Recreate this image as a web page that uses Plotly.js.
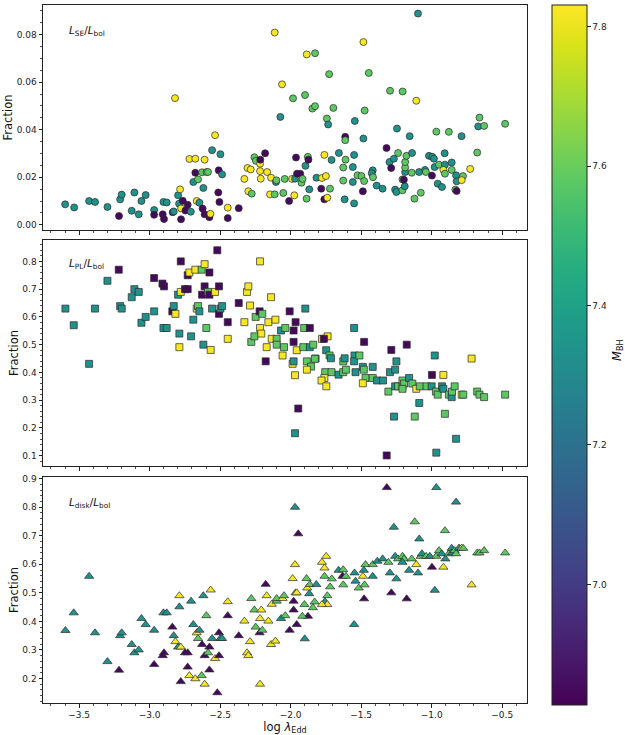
<!DOCTYPE html>
<html>
<head>
<meta charset="utf-8">
<script src="https://cdn.plot.ly/plotly-3.0.1.min.js"></script>
<style>html,body{margin:0;padding:0;background:#fff;}#chart{width:625px;height:735px;}</style>
</head>
<body>
<div id="chart"></div>
<script>
// ---- Panel 1: L_SE / L_bol (circles) ----
const seLogEdd = [-3.599,-3.535,-3.429,-3.387,-3.299,-3.217,-3.209,-3.198,-3.127,-3.108,-3.077,-3.058,-3.028,-2.968,-2.968,-2.907,-2.902,-2.898,-2.879,-2.836,-2.829,-2.820,-2.798,-2.784,-2.791,-2.777,-2.777,-2.765,-2.746,-2.730,-2.708,-2.718,-2.690,-2.676,-2.676,-2.666,-2.657,-2.647,-2.628,-2.624,-2.619,-2.610,-2.610,-2.596,-2.586,-2.576,-2.569,-2.557,-2.536,-2.513,-2.510,-2.505,-2.498,-2.486,-2.446,-2.446,-2.368,-2.328,-2.306,-2.300,-2.283,-2.276,-2.257,-2.246,-2.217,-2.217,-2.215,-2.212,-2.181,-2.167,-2.146,-2.139,-2.113,-2.113,-2.104,-2.101,-2.073,-2.061,-2.052,-2.042,-2.011,-1.990,-1.983,-1.974,-1.969,-1.962,-1.955,
-1.886,-1.827,-1.898,-1.846,-1.827,-1.727,-1.697,-1.743,-1.734,-1.613,-1.613,-1.545,-1.484,-1.475,-1.446,-1.484,-1.295,-1.246,-1.206,-1.156,-1.109,-1.097,-0.967,-0.878,-0.788,-0.677,-0.670,-0.661,-0.628,-0.479,-0.727,-1.878,-1.895,-1.874,-1.932,-1.923,-1.916,-1.868,-1.887,-1.817,-1.778,-1.750,-1.783,-1.761,-1.721,-1.761,-1.740,-1.710,-1.658,-1.611,-1.627,-1.627,-1.559,-1.550,-1.559,-1.617,-1.550,-1.526,-1.498,-1.479,-1.488,-1.418,-1.425,-1.416,-1.390,-1.348,-1.320,-1.299,-1.287,-1.268,-1.238,-1.259,-1.250,-1.207,-1.191,-1.207,-1.197,-1.188,-1.188,-1.188,-1.179,-1.139,-1.141,-1.089,-1.047,-1.041,-1.077,-1.122,-1.019,-0.996,-0.984,-0.979,-0.998,-0.957,-0.927,-0.948,-0.908,-0.906,-0.917,-0.906,-0.858,-0.858,-0.827,-0.823,-0.778,-0.787,-0.832,-0.823];
const seFrac = [0.0086,0.0073,0.0100,0.0096,0.0075,0.0037,0.0107,0.0127,0.0059,0.0136,0.0044,0.0100,0.0125,0.0062,0.0042,0.0044,0.0096,0.0024,0.0094,0.0053,0.0056,0.0533,0.0124,0.0149,0.0089,0.0069,0.0023,0.0101,0.0060,0.0084,0.0055,0.0277,0.0180,0.0278,0.0219,0.0100,0.0191,0.0093,0.0221,0.0068,0.0155,0.0274,0.0044,0.0222,0.0222,0.0032,0.0046,0.0314,0.0377,0.0136,0.0229,0.0096,0.0297,0.0212,0.0072,0.0028,0.0070,0.0193,0.0239,0.0141,0.0233,0.0131,0.0284,0.0269,0.0257,0.0226,0.0274,0.0194,0.0301,0.0222,0.0128,0.0198,0.0809,0.0128,0.0180,0.0187,0.0454,0.0591,0.0134,0.0193,0.0100,0.0193,0.0532,0.0124,0.0194,0.0283,0.0215,
0.0717,0.0722,0.0546,0.0489,0.0499,0.0634,0.0492,0.0447,0.0422,0.0370,0.0356,0.0437,0.0769,0.0481,0.0639,0.0363,0.0564,0.0405,0.0561,0.0373,0.0522,0.0889,0.0392,0.0391,0.0373,0.0304,0.0414,0.0451,0.0416,0.0425,0.0235,0.0286,0.0248,0.0274,0.0215,0.0177,0.0193,0.0149,0.0110,0.0198,0.0197,0.0205,0.0152,0.0294,0.0152,0.0107,0.0114,0.0273,0.0302,0.0274,0.0241,0.0186,0.0243,0.0294,0.0180,0.0107,0.0090,0.0208,0.0205,0.0184,0.0141,0.0229,0.0217,0.0200,0.0165,0.0152,0.0323,0.0264,0.0239,0.0278,0.0302,0.0148,0.0138,0.0145,0.0162,0.0191,0.0190,0.0222,0.0241,0.0264,0.0290,0.0302,0.0219,0.0222,0.0231,0.0222,0.0135,0.0110,0.0290,0.0286,0.0278,0.0243,0.0207,0.0173,0.0159,0.0253,0.0301,0.0253,0.0231,0.0215,0.0262,0.0231,0.0208,0.0183,0.0205,0.0188,0.0148,0.0142];
const seMass = [7.33,7.33,7.33,7.33,7.33,6.85,7.33,7.33,7.33,7.33,7.33,7.33,7.33,7.33,6.85,6.85,7.33,6.85,7.33,6.85,7.33,7.82,7.33,7.82,7.33,7.82,6.85,6.85,6.85,6.85,7.33,7.82,7.33,7.82,6.85,7.82,7.58,7.33,7.58,6.85,7.33,7.82,6.85,7.58,7.58,6.85,7.82,7.33,7.82,6.85,6.85,6.85,7.33,7.33,7.82,6.85,6.85,7.82,7.82,7.82,7.82,7.58,7.58,7.58,7.82,7.82,6.85,7.82,6.85,7.82,7.82,7.82,7.82,7.58,7.33,7.58,7.33,7.82,7.58,7.58,6.85,7.82,7.58,7.82,7.33,6.85,6.85,
7.82,7.58,7.58,7.58,7.58,7.58,7.58,7.58,7.33,6.85,7.58,7.33,7.82,7.58,7.58,7.33,7.58,7.33,7.58,7.33,7.82,7.33,7.58,7.58,7.33,7.58,7.33,7.58,7.58,7.58,7.82,7.58,7.33,6.85,6.85,7.58,7.58,7.33,7.58,7.33,7.82,7.82,6.85,7.82,7.58,6.85,7.82,7.33,7.33,7.58,7.58,7.58,7.33,7.33,7.33,7.33,7.33,7.58,7.58,7.58,6.85,7.33,7.33,7.58,7.33,7.33,6.85,7.33,6.85,7.33,7.58,7.33,7.33,7.58,7.33,7.58,6.85,7.33,7.58,7.58,7.58,7.33,7.58,7.33,7.33,7.58,7.58,7.58,7.33,7.33,7.33,7.33,6.85,7.33,7.33,7.58,7.33,7.33,7.82,7.58,7.33,7.58,7.33,7.33,7.58,7.82,7.58,6.85];

// ---- Panel 2: L_PL / L_bol (squares) ----
const plLogEdd = [-3.597,-3.538,-3.429,-3.387,-3.299,-3.219,-3.209,-3.198,-3.127,-3.108,-3.077,-3.058,-3.028,-2.968,-2.968,-2.909,-2.898,-2.902,-2.879,-2.839,-2.829,-2.817,-2.798,-2.789,-2.789,-2.779,-2.779,-2.749,-2.730,-2.730,-2.718,-2.706,-2.690,-2.676,-2.666,-2.657,-2.647,-2.631,-2.628,-2.619,-2.610,-2.610,-2.598,-2.586,-2.576,-2.576,-2.567,-2.557,-2.536,-2.520,-2.508,-2.508,-2.498,-2.486,-2.446,-2.446,-2.368,-2.328,-2.309,-2.300,-2.288,-2.279,-2.257,-2.248,-2.217,-2.220,-2.217,-2.208,-2.201,-2.177,-2.170,-2.158,-2.139,-2.134,-2.108,-2.099,-2.099,-2.068,-2.057,-2.047,-2.038,-2.007,-1.986,-1.979,-1.979,-1.979,-1.969,-1.969,-1.965,-1.957,-1.946,
-1.896,-1.904,-1.864,-1.910,-1.864,-1.840,-1.885,-1.855,-1.885,-1.823,-1.828,-1.778,-1.738,-1.764,-1.748,-1.724,-1.714,-1.755,-1.710,-1.761,-1.781,-1.747,-1.660,-1.627,-1.617,-1.627,-1.608,-1.547,-1.550,-1.550,-1.512,-1.540,-1.488,-1.481,-1.469,-1.479,-1.488,-1.418,-1.418,-1.387,-1.345,-1.307,-1.296,-1.259,-1.250,-1.286,-1.177,-1.267,-1.259,-1.238,-1.207,-1.207,-1.196,-1.160,-1.207,-1.137,-1.120,-1.109,-1.088,-1.084,-1.036,-1.000,-0.978,-0.998,-0.917,-0.906,-0.967,-0.970,-0.957,-0.927,-0.917,-0.878,-0.858,-0.856,-0.837,-0.827,-0.787,-0.776,-0.717,-0.677,-0.661,-0.628,-0.479,-1.319];
const plFrac = [0.630,0.570,0.431,0.630,0.730,0.770,0.639,0.630,0.671,0.700,0.690,0.579,0.600,0.740,0.620,0.720,0.710,0.560,0.560,0.620,0.639,0.611,0.680,0.540,0.491,0.800,0.690,0.700,0.700,0.750,0.760,0.530,0.590,0.770,0.630,0.639,0.620,0.770,0.680,0.500,0.790,0.710,0.560,0.690,0.760,0.680,0.481,0.630,0.690,0.840,0.710,0.611,0.630,0.639,0.581,0.521,0.650,0.581,0.690,0.710,0.641,0.510,0.530,0.600,0.800,0.620,0.560,0.540,0.611,0.440,0.491,0.581,0.671,0.521,0.590,0.521,0.500,0.551,0.461,0.491,0.560,0.620,0.431,0.551,0.510,0.440,0.390,0.181,0.581,0.480,0.270,
0.630,0.560,0.560,0.491,0.491,0.500,0.440,0.421,0.410,0.450,0.449,0.521,0.530,0.521,0.480,0.461,0.451,0.401,0.401,0.380,0.371,0.350,0.392,0.440,0.451,0.401,0.410,0.461,0.440,0.560,0.461,0.401,0.420,0.410,0.380,0.510,0.361,0.420,0.380,0.371,0.371,0.331,0.401,0.410,0.440,0.481,0.500,0.241,0.350,0.350,0.350,0.371,0.360,0.380,0.341,0.360,0.241,0.341,0.290,0.350,0.350,0.350,0.461,0.391,0.391,0.251,0.111,0.331,0.320,0.350,0.341,0.320,0.311,0.331,0.350,0.161,0.320,0.320,0.450,0.331,0.320,0.311,0.320,0.101];
const plMass = [7.33,7.33,7.33,7.33,7.33,6.85,7.33,7.33,7.33,7.33,7.33,7.33,7.33,6.85,7.33,6.85,6.85,7.33,7.33,6.85,7.33,7.82,7.33,7.33,7.82,6.85,7.82,6.85,6.85,6.85,7.82,7.33,7.33,7.82,7.82,7.58,7.33,7.58,6.85,7.33,7.82,6.85,7.58,7.58,6.85,6.85,7.82,7.33,7.82,6.85,6.85,6.85,7.33,7.33,6.85,7.82,6.85,7.82,7.82,7.82,7.82,7.58,7.58,7.58,7.82,6.85,7.82,7.82,7.58,6.85,7.82,7.82,7.82,7.82,7.82,7.58,7.58,7.33,7.82,7.58,7.58,6.85,7.82,6.85,6.85,7.33,7.82,7.33,6.85,7.82,6.85,
7.33,7.58,6.85,7.58,7.33,7.58,7.58,7.58,7.82,7.33,7.58,7.82,7.82,6.85,7.33,7.58,7.33,7.58,7.58,7.82,7.82,7.82,7.33,7.58,7.33,7.58,7.58,7.33,7.33,7.33,7.58,7.33,7.33,7.58,7.58,6.85,7.82,7.33,7.58,7.33,7.33,7.58,7.33,7.33,7.33,6.85,6.85,7.33,7.33,7.58,7.58,7.58,7.58,7.33,7.58,7.58,7.58,7.82,7.33,7.58,7.58,7.33,7.33,6.85,7.82,7.58,7.33,7.58,7.58,7.33,7.33,7.58,7.33,7.58,7.58,7.33,7.82,7.58,7.82,7.58,7.58,7.58,7.58,6.85];

// ---- Panel 3: L_disk / L_bol (triangles) ----
const diskLogEdd = [-3.597,-3.538,-3.429,-3.387,-3.299,-3.217,-3.209,-3.198,-3.127,-3.108,-3.077,-3.058,-3.028,-2.968,-2.968,-2.907,-2.898,-2.902,-2.879,-2.839,-2.829,-2.817,-2.798,-2.789,-2.789,-2.779,-2.779,-2.749,-2.730,-2.730,-2.718,-2.706,-2.690,-2.676,-2.666,-2.657,-2.647,-2.631,-2.628,-2.619,-2.610,-2.610,-2.598,-2.586,-2.576,-2.576,-2.567,-2.557,-2.536,-2.520,-2.508,-2.508,-2.498,-2.486,-2.446,-2.446,-2.368,-2.328,-2.309,-2.300,-2.288,-2.279,-2.257,-2.248,-2.217,-2.220,-2.217,-2.208,-2.201,-2.177,-2.170,-2.158,-2.139,-2.134,-2.108,-2.099,-2.099,-2.068,-2.057,-2.047,-2.038,-2.007,-1.986,-1.979,-1.979,-1.969,-1.969,-1.965,-1.957,-1.946,-1.957,
-1.887,-1.882,-1.864,-1.818,-1.868,-1.902,-1.830,-1.842,-1.877,-1.917,-1.900,-1.778,-1.748,-1.760,-1.760,-1.708,-1.720,-1.740,-1.757,-1.740,-1.778,-1.660,-1.627,-1.632,-1.608,-1.627,-1.547,-1.540,-1.550,-1.517,-1.488,-1.481,-1.469,-1.476,-1.479,-1.418,-1.418,-1.385,-1.347,-1.318,-1.307,-1.296,-1.286,-1.268,-1.259,-1.250,-1.238,-1.207,-1.196,-1.207,-1.177,-1.160,-1.141,-1.120,-1.109,-1.097,-1.088,-1.078,-1.069,-1.039,-1.013,-0.998,-0.978,-0.967,-0.967,-0.948,-0.929,-0.917,-0.906,-0.903,-0.878,-0.858,-0.856,-0.837,-0.827,-0.827,-0.806,-0.787,-0.776,-0.717,-0.677,-0.661,-0.628,-0.479];
const diskFrac = [0.368,0.430,0.558,0.360,0.259,0.229,0.350,0.360,0.319,0.290,0.300,0.410,0.389,0.369,0.249,0.280,0.290,0.430,0.430,0.380,0.350,0.329,0.310,0.451,0.490,0.189,0.310,0.290,0.290,0.240,0.210,0.471,0.389,0.199,0.360,0.340,0.369,0.210,0.319,0.490,0.180,0.280,0.420,0.290,0.310,0.230,0.510,0.340,0.270,0.150,0.360,0.280,0.340,0.340,0.420,0.469,0.350,0.401,0.290,0.280,0.329,0.480,0.440,0.380,0.180,0.360,0.410,0.440,0.369,0.530,0.490,0.401,0.319,0.460,0.331,0.471,0.480,0.410,0.480,0.490,0.420,0.369,0.550,0.471,0.440,0.800,0.599,0.500,0.500,0.707,0.389,
0.550,0.517,0.529,0.529,0.497,0.459,0.468,0.448,0.418,0.418,0.339,0.607,0.628,0.587,0.558,0.549,0.521,0.490,0.469,0.459,0.459,0.579,0.581,0.558,0.558,0.528,0.570,0.541,0.389,0.517,0.558,0.579,0.599,0.528,0.479,0.599,0.558,0.611,0.619,0.869,0.607,0.570,0.500,0.730,0.628,0.549,0.619,0.628,0.619,0.607,0.479,0.579,0.619,0.749,0.599,0.570,0.689,0.628,0.637,0.628,0.628,0.590,0.509,0.869,0.628,0.648,0.637,0.590,0.718,0.619,0.637,0.656,0.640,0.648,0.818,0.637,0.657,0.657,0.656,0.528,0.640,0.640,0.648,0.640];
const diskMass = [7.33,7.33,7.33,7.33,7.33,6.85,7.33,7.33,7.33,7.33,7.33,7.33,7.33,7.33,6.85,6.85,6.85,7.33,7.33,6.85,7.33,7.82,7.33,7.33,7.82,6.85,7.82,6.85,6.85,6.85,7.82,7.33,7.33,7.82,7.82,7.58,7.33,7.58,6.85,7.33,7.82,6.85,7.58,7.58,6.85,6.85,7.82,7.33,7.82,6.85,6.85,6.85,7.33,7.33,6.85,7.82,6.85,7.82,7.82,7.82,7.82,7.58,7.58,7.58,7.82,6.85,7.82,7.82,7.58,6.85,7.82,7.82,7.82,7.82,7.82,7.58,7.58,7.33,7.82,7.58,7.58,6.85,7.82,6.85,6.85,7.33,7.82,7.58,7.82,6.85,6.85,
7.58,7.82,7.58,7.33,7.33,7.58,7.58,7.58,6.85,7.58,7.33,7.82,7.82,7.82,7.58,7.58,7.58,7.58,7.33,7.82,7.82,7.33,7.58,6.85,7.58,7.58,7.33,7.33,7.33,7.58,7.82,7.33,7.58,7.58,6.85,7.58,7.33,7.33,7.33,6.85,7.58,7.33,6.85,7.33,7.33,7.33,7.58,7.58,7.58,7.33,6.85,7.33,7.58,7.58,7.82,7.33,7.33,7.58,7.33,7.58,7.33,6.85,7.33,7.33,7.58,7.58,7.33,7.82,7.58,7.33,7.58,7.33,7.33,7.58,7.33,7.58,7.33,7.82,7.58,7.82,7.58,7.58,7.58,7.58];

const xTickVals = [-3.5,-3.0,-2.5,-2.0,-1.5,-1.0,-0.5];
const cbTickVals = [7.0,7.2,7.4,7.6,7.8];

const CMIN = 6.827, CMAX = 7.831;
const FONT = 'DejaVu Sans, Liberation Sans, sans-serif';
const lineCol = '#222';

function mk(x, y, m, sym, size, xa, ya, showScale) {
  const marker = {
    color: m, colorscale: 'Viridis', cmin: CMIN, cmax: CMAX,
    symbol: sym, size: size, opacity: 1,
    line: {color: '#2a2a2a', width: 0.7},
    showscale: showScale
  };
  if (showScale) {
    marker.colorbar = {
      x: 552/625, xanchor: 'left', xref: 'paper',
      y: 1 - 5/735, yanchor: 'top', yref: 'paper',
      len: 700, lenmode: 'pixels',
      thickness: 35, thicknessmode: 'pixels',
      xpad: 0, ypad: 0,
      outlinewidth: 1, outlinecolor: lineCol,
      ticks: 'outside', ticklen: 3.5, tickwidth: 1, tickcolor: lineCol,
      tickvals: cbTickVals, ticktext: cbTickVals.map(v => v.toFixed(1)),
      tickfont: {family: FONT, size: 9, color: '#222'}
    };
  }
  return {type: 'scatter', mode: 'markers', x: x, y: y, xaxis: xa, yaxis: ya,
          marker: marker, hoverinfo: 'x+y', showlegend: false};
}

const data = [
  mk(seLogEdd, seFrac, seMass, 'circle', 7, 'x', 'y', true),
  mk(plLogEdd, plFrac, plMass, 'square', 7, 'x2', 'y2', false),
  mk(diskLogEdd, diskFrac, diskMass, 'triangle-up', 8, 'x3', 'y3', false)
];

const XD = [43/625, 527/625];
function xax(anchor, labels) {
  return {
    domain: XD, anchor: anchor, range: [-3.756, -0.324],
    tickvals: xTickVals, ticktext: xTickVals.map(v => (v < 0 ? '\u2212' : '') + Math.abs(v).toFixed(1)),
    showticklabels: labels,
    ticks: 'outside', ticklen: 3.5, tickwidth: 1, tickcolor: lineCol,
    minor: {dtick: 0.1, tick0: 0, ticks: 'outside', ticklen: 2, tickwidth: 0.8, tickcolor: lineCol, showgrid: false},
    showline: true, mirror: true, linecolor: lineCol, linewidth: 1,
    showgrid: false, zeroline: false,
    tickfont: {family: FONT, size: 9, color: '#222'}
  };
}
function yax(anchor, dom, range, dtick, minor, fmt) {
  return {
    domain: dom, anchor: anchor, range: range,
    dtick: dtick, tick0: 0, tickformat: fmt,
    ticks: 'outside', ticklen: 3.5, tickwidth: 1, tickcolor: lineCol,
    minor: {dtick: minor, tick0: 0, ticks: 'outside', ticklen: 2, tickwidth: 0.8, tickcolor: lineCol, showgrid: false},
    showline: true, mirror: true, linecolor: lineCol, linewidth: 1,
    showgrid: false, zeroline: false,
    tickfont: {family: FONT, size: 9, color: '#222'},
    title: {text: 'Fraction', font: {family: FONT, size: 11.5, color: '#111'}, standoff: 1}
  };
}

const xa3 = xax('y3', true);
xa3.title = {text: 'log <i>λ</i><sub>Edd</sub>', font: {family: FONT, size: 11.5, color: '#111'}, standoff: 2};

const layout = {
  width: 625, height: 735,
  margin: {l: 0, r: 0, t: 0, b: 0},
  paper_bgcolor: '#fff', plot_bgcolor: '#fff',
  font: {family: FONT, color: '#222'},
  showlegend: false,
  xaxis: xax('y', false),
  xaxis2: xax('y2', false),
  xaxis3: xa3,
  yaxis: yax('x', [1 - 230/735, 1 - 5/735], [-0.0022, 0.0925], 0.02, 0.005, '.2f'),
  yaxis2: yax('x2', [1 - 466/735, 1 - 240/735], [0.063, 0.877], 0.1, 0.02, '.1f'),
  yaxis3: yax('x3', [1 - 703/735, 1 - 477/735], [0.114, 0.906], 0.1, 0.02, '.1f'),
  annotations: [
    {text: '<i>L</i><sub>SE</sub>/<i>L</i><sub>bol</sub>', xref: 'paper', yref: 'paper',
     x: 67/625, y: 1 - 31/735, xanchor: 'left', yanchor: 'middle', showarrow: false,
     font: {family: FONT, size: 10.5, color: '#111'}},
    {text: '<i>L</i><sub>PL</sub>/<i>L</i><sub>bol</sub>', xref: 'paper', yref: 'paper',
     x: 67/625, y: 1 - 264/735, xanchor: 'left', yanchor: 'middle', showarrow: false,
     font: {family: FONT, size: 10.5, color: '#111'}},
    {text: '<i>L</i><sub>disk</sub>/<i>L</i><sub>bol</sub>', xref: 'paper', yref: 'paper',
     x: 67/625, y: 1 - 503/735, xanchor: 'left', yanchor: 'middle', showarrow: false,
     font: {family: FONT, size: 10.5, color: '#111'}},
    {text: '<i>M</i><sub>BH</sub>', xref: 'paper', yref: 'paper',
     x: 617/625, y: 1 - 350/735, xanchor: 'center', yanchor: 'middle', showarrow: false,
     textangle: -90, font: {family: FONT, size: 11.5, color: '#111'}}
  ]
};

Plotly.newPlot('chart', data, layout, {staticPlot: true, displayModeBar: false});
</script>
</body>
</html>
